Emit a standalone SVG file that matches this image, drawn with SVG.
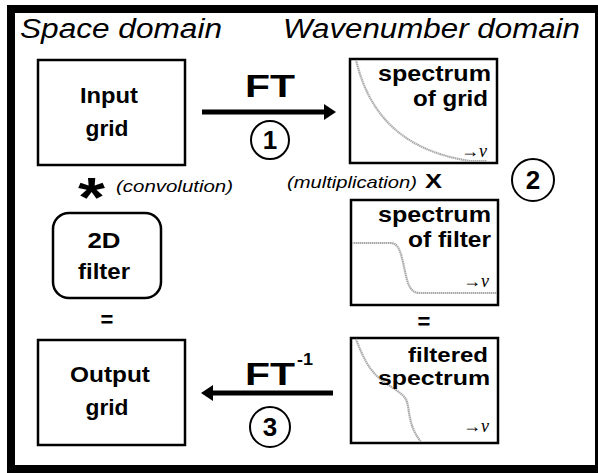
<svg xmlns="http://www.w3.org/2000/svg" width="598" height="473" viewBox="0 0 598 473">
<style>
.box{fill:#fff;stroke:#000;stroke-width:2.5}
.hd{font-family:"Liberation Sans",Arial,sans-serif;font-style:italic;font-size:27px;fill:#000}
.lb{font-family:"Liberation Sans",Arial,sans-serif;font-weight:bold;font-size:22px;fill:#000}
.sm{font-size:20px}
.it{font-family:"Liberation Sans",Arial,sans-serif;font-style:italic;font-size:17px;fill:#000}
.ft{font-family:"Liberation Sans",Arial,sans-serif;font-weight:bold;font-size:31px;fill:#000}
.num{font-family:"Liberation Sans",Arial,sans-serif;font-weight:bold;font-size:26px;fill:#000;text-anchor:middle}
.nu{font-family:"Liberation Serif","Times New Roman",serif;font-size:18px;fill:#000}
.curve{fill:none;stroke:#aaa;stroke-width:2.2;stroke-dasharray:1.5 0.5}
.circ{fill:none;stroke:#000;stroke-width:2}
.arr{stroke:#000;stroke-width:5;fill:none}
</style>
<defs>
<marker id="ah" markerUnits="userSpaceOnUse" markerWidth="14" markerHeight="18" refX="2" refY="9" orient="auto">
<path d="M0,1 L12,9 L0,17 Z" fill="#000"/>
</marker>
</defs>
<rect width="598" height="473" fill="#fff"/>
<rect x="11" y="9" width="588" height="460" fill="none" stroke="#000" stroke-width="8"/>
<text class="hd" x="20" y="38" textLength="202" lengthAdjust="spacingAndGlyphs">Space domain</text>
<text class="hd" x="283" y="38" textLength="297" lengthAdjust="spacingAndGlyphs">Wavenumber domain</text>

<g id="input-grid">
<rect class="box" x="38" y="60" width="147" height="105"/>
<text class="lb" x="109" y="103" text-anchor="middle" textLength="58" lengthAdjust="spacingAndGlyphs">Input</text>
<text class="lb" x="107" y="136" text-anchor="middle" textLength="43" lengthAdjust="spacingAndGlyphs">grid</text>
</g>

<g id="spectrum-grid">
<rect class="box" x="350" y="59" width="147" height="104"/>
<path class="curve" d="M356,60 C368,110 398,150 470,161 L487,161"/>
<text class="lb" x="491" y="81" text-anchor="end" textLength="113" lengthAdjust="spacingAndGlyphs">spectrum</text>
<text class="lb" x="488" y="106" text-anchor="end" textLength="75" lengthAdjust="spacingAndGlyphs">of grid</text>
<text class="nu" x="487" y="157" text-anchor="end">→<tspan font-style="italic">ν</tspan></text>
</g>

<g id="filter-2d">
<rect class="box" x="53" y="213" width="108" height="85" rx="16" ry="16"/>
<text class="lb" x="104" y="248" text-anchor="middle" textLength="33" lengthAdjust="spacingAndGlyphs">2D</text>
<text class="lb" x="104" y="279" text-anchor="middle" textLength="52" lengthAdjust="spacingAndGlyphs">filter</text>
</g>

<g id="spectrum-filter">
<rect class="box" x="351" y="200" width="147" height="105"/>
<path class="curve" d="M352,243 L390,243 C398,243 400,250 403,262 C407,280 408,293 420,293 L497,293"/>
<text class="lb" x="491" y="222" text-anchor="end" textLength="113" lengthAdjust="spacingAndGlyphs">spectrum</text>
<text class="lb" x="491" y="247" text-anchor="end" textLength="83" lengthAdjust="spacingAndGlyphs">of filter</text>
<text class="nu" x="489" y="287" text-anchor="end">→<tspan font-style="italic">ν</tspan></text>
</g>

<g id="output-grid">
<rect class="box" x="38" y="340" width="147" height="105"/>
<text class="lb" x="110" y="382" text-anchor="middle" textLength="80" lengthAdjust="spacingAndGlyphs">Output</text>
<text class="lb" x="107" y="415" text-anchor="middle" textLength="43" lengthAdjust="spacingAndGlyphs">grid</text>
</g>

<g id="filtered-spectrum">
<rect class="box" x="351" y="338" width="147" height="105"/>
<path class="curve" d="M356,339 C362,355 368,368 378,377 C390,388 404,392 407,402 C410,412 408,425 421,442"/>
<text class="lb sm" x="488" y="362" text-anchor="end" textLength="80" lengthAdjust="spacingAndGlyphs">filtered</text>
<text class="lb sm" x="490" y="385" text-anchor="end" textLength="112" lengthAdjust="spacingAndGlyphs">spectrum</text>
<text class="nu" x="489" y="432" text-anchor="end">→<tspan font-style="italic">ν</tspan></text>
</g>

<g id="connectors">
<line class="arr" x1="202" y1="112" x2="326" y2="112" marker-end="url(#ah)"/>
<line class="arr" x1="333" y1="393" x2="211" y2="393" marker-end="url(#ah)"/>
</g>

<g id="labels">
<text class="ft" x="245" y="97" textLength="50" lengthAdjust="spacingAndGlyphs">FT</text>
<circle class="circ" cx="270" cy="140" r="19"/>
<text class="num" x="270" y="149">1</text>
<text class="ft" x="245" y="385" textLength="50" lengthAdjust="spacingAndGlyphs">FT</text>
<text class="lb" x="297" y="365" textLength="16" lengthAdjust="spacingAndGlyphs" style="font-size:16px">-1</text>
<circle class="circ" cx="270" cy="427" r="20"/>
<text class="num" x="270" y="436">3</text>
<circle class="circ" cx="533" cy="180" r="21"/>
<text class="num" x="533" y="189">2</text>
<text class="lb" x="78" y="216" textLength="27" lengthAdjust="spacingAndGlyphs" style="font-size:56px">*</text>
<text class="it" x="116" y="192" textLength="117" lengthAdjust="spacingAndGlyphs">(convolution)</text>
<text class="it" x="287" y="188" textLength="130" lengthAdjust="spacingAndGlyphs">(multiplication)</text>
<text class="lb" x="425" y="188" textLength="17" lengthAdjust="spacingAndGlyphs" style="font-size:20px">X</text>
<text class="lb" x="107" y="327" text-anchor="middle">=</text>
<text class="lb" x="424" y="329" text-anchor="middle">=</text>
</g>
</svg>
